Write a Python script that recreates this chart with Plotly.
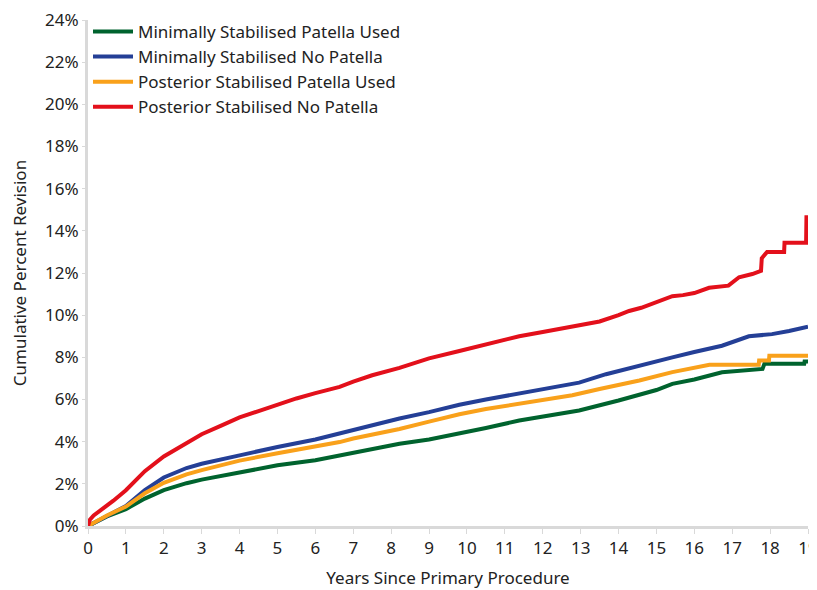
import plotly.graph_objects as go

# Data (years since primary procedure, cumulative percent revision)
ms_pat_x = [0, 0.5, 1, 1.5, 2, 2.6, 3, 4, 5, 6, 6.64, 7, 8.22, 9, 9.8, 10.5, 11.38, 12, 12.96, 14, 15, 15.42, 16, 16.73, 17.3, 17.8, 17.85, 18.9, 18.91, 19]
ms_pat_y = [0, 0.45, 0.8, 1.3, 1.7, 2.03, 2.2, 2.55, 2.88, 3.12, 3.35, 3.45, 3.9, 4.1, 4.38, 4.65, 5.0, 5.2, 5.48, 5.95, 6.45, 6.74, 6.95, 7.29, 7.38, 7.45, 7.69, 7.69, 7.8, 7.8]

ms_nopat_x = [0, 0.5, 1, 1.5, 2, 2.6, 3, 4, 5, 6, 6.64, 7, 8.22, 9, 9.8, 10.5, 11.38, 12, 12.96, 13.67, 14.5, 15.42, 16, 16.73, 17.44, 18.05, 18.5, 18.95, 19]
ms_nopat_y = [0, 0.5, 0.95, 1.7, 2.3, 2.75, 2.95, 3.35, 3.75, 4.1, 4.4, 4.55, 5.1, 5.4, 5.75, 6.0, 6.28, 6.5, 6.8, 7.2, 7.6, 8.0, 8.25, 8.55, 9.0, 9.1, 9.25, 9.4, 9.45]

ps_pat_x = [0, 0.5, 1, 1.5, 2, 2.6, 3, 4, 5, 6, 6.64, 7, 8.22, 9, 9.8, 10.5, 11.38, 12, 12.78, 13.5, 14.55, 15.42, 16, 16.4, 17.7, 17.71, 17.97, 17.98, 19]
ps_pat_y = [0, 0.5, 0.92, 1.55, 2.05, 2.45, 2.65, 3.1, 3.45, 3.78, 3.98, 4.15, 4.6, 4.95, 5.3, 5.55, 5.8, 6.0, 6.2, 6.5, 6.9, 7.3, 7.5, 7.65, 7.65, 7.85, 7.85, 8.08, 8.08]

ps_nopat_x = [0, 0.05, 0.15, 0.35, 0.67, 1, 1.5, 2, 2.5, 3, 3.5, 4, 4.5, 5, 5.5, 6, 6.64, 7, 7.5, 8.22, 9, 9.8, 10.5, 11.38, 12, 12.96, 13.5, 14, 14.28, 14.6, 15, 15.42, 15.7, 16, 16.39, 16.9, 17.18, 17.53, 17.76, 17.78, 17.92, 18.37, 18.38, 18.95, 18.96]
ps_nopat_y = [0, 0.3, 0.5, 0.75, 1.2, 1.7, 2.6, 3.3, 3.85, 4.35, 4.75, 5.15, 5.45, 5.75, 6.05, 6.3, 6.6, 6.85, 7.15, 7.5, 7.95, 8.3, 8.6, 9.0, 9.2, 9.5, 9.7, 10.0, 10.2, 10.35, 10.6, 10.9, 10.95, 11.05, 11.3, 11.4, 11.8, 11.95, 12.1, 12.7, 13.0, 13.0, 13.43, 13.43, 14.74]

names = ["Minimally Stabilised Patella Used", "Minimally Stabilised No Patella",
         "Posterior Stabilised Patella Used", "Posterior Stabilised No Patella"]
colors = ["#00632E", "#243F96", "#F9A11B", "#E3101B"]
xs = [ms_pat_x, ms_nopat_x, ps_pat_x, ps_nopat_x]
ys = [ms_pat_y, ms_nopat_y, ps_pat_y, ps_nopat_y]

x_ticks = list(range(0, 20))
y_ticks = list(range(0, 25, 2))
y_tick_text = [f"{v}%" for v in y_ticks]

FONT = "Noto Sans"
FS = 17

fig = go.Figure()
for n, c, x, y in zip(names, colors, xs, ys):
    fig.add_trace(go.Scatter(x=x, y=y, mode="lines", name=n,
                             line=dict(color=c, width=4)))

# page body has an 8px margin, so the figure is placed at (8, 8)
fig.update_layout(
    width=809, height=582,
    margin=dict(l=80, r=9, t=12, b=64, autoexpand=False),
    paper_bgcolor="white", plot_bgcolor="white",
    font=dict(family=FONT, size=FS, color="#222"),
    showlegend=True,
    legend=dict(x=0.0, y=1.012, xanchor="left", yanchor="top",
                bgcolor="rgba(0,0,0,0)", font=dict(size=FS, family=FONT),
                tracegroupgap=0, itemwidth=40),
    xaxis=dict(range=[0, 19], tickmode="array", tickvals=x_ticks,
               ticktext=[str(v) for v in x_ticks], automargin=False,
               showgrid=False, zeroline=False, ticklabeloverflow="allow",
               showline=True, linecolor="#d9d9d9", linewidth=3,
               ticks="outside", ticklen=5, tickcolor="#d9d9d9", tickwidth=1,
               tickfont=dict(size=FS, family=FONT),
               title=dict(text="Years Since Primary Procedure", standoff=14,
                          font=dict(size=FS, family=FONT))),
    yaxis=dict(range=[0, 24], tickmode="array", tickvals=y_ticks,
               ticktext=y_tick_text, automargin=False,
               showgrid=False, zeroline=False, ticklabeloverflow="allow",
               showline=True, linecolor="#d9d9d9", linewidth=3,
               ticks="outside", ticklen=3, tickcolor="#d9d9d9", tickwidth=1,
               tickfont=dict(size=FS, family=FONT),
               title=dict(text="Cumulative Percent Revision", standoff=17,
                          font=dict(size=FS, family=FONT))),
)

fig.write_html("out.html")
